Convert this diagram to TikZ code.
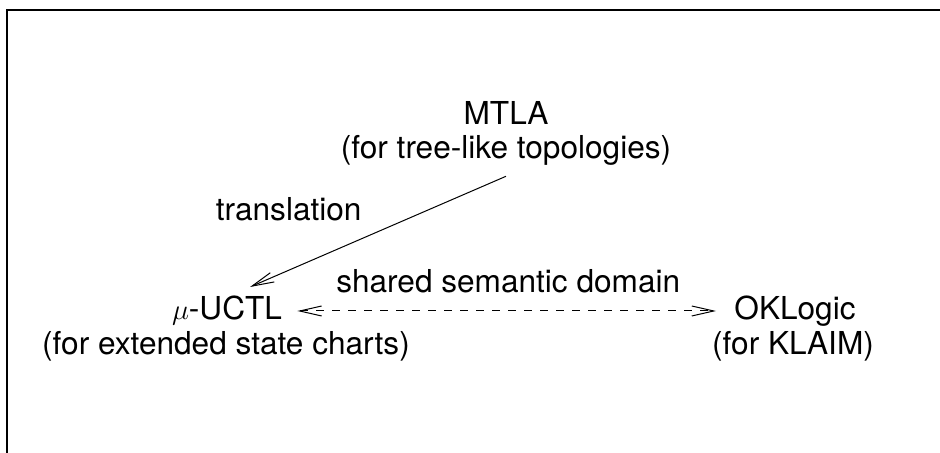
\documentclass[tikz,border=0pt]{standalone}
\usepackage{fontspec}
\setmainfont{TeX Gyre Heros}
\usepackage{tikz}
\usetikzlibrary{arrows.meta, positioning, calc}
\tikzstyle{logic} = [inner sep=0pt, anchor=base, font=\fontsize{15.8}{17.5}\selectfont]
\tikzstyle{note} = [inner sep=0pt, anchor=base, font=\fontsize{15.8}{17.5}\selectfont]
\tikzstyle{arrow} = [line width=0.5pt, -{Straight Barb[length=11pt,width=5pt]}]
\tikzstyle{dasharrow} = [line width=0.5pt, dash pattern=on 4pt off 4pt, {Straight Barb[length=11pt,width=5pt]}-{Straight Barb[length=11pt,width=5pt]}]

\begin{document}
\begin{tikzpicture}[x=0.5pt, y=0.5pt]
\useasboundingbox (0,0) rectangle (940,453);
% frame edges
\draw[line width=0.6pt] (7,0) -- (7,443) -- (940,443);

\node (mtla) [logic] at (506,328) {MTLA};
\node (mtlanote) [note] at (506,294) {(for tree-like topologies)};
\node (uctl) [logic] at (227,133) {$\mu$-UCTL};
\node (uctlnote) [note] at (226,98) {(for extended state charts)};
\node (okl) [logic] at (795,133) {OKLogic};
\node (oklnote) [note] at (793,98) {(for KLAIM)};

\draw [arrow] ([yshift=-5pt]mtlanote.south) -- node[note, pos=0.5, anchor=south east, xshift=-8pt, yshift=5pt] {translation} ([xshift=11.5pt,yshift=4.5pt]uctl.north);
\draw [dasharrow, shorten <=7.5pt, shorten >=9pt] (uctl.east) -- node[note, anchor=south, yshift=9pt] {shared semantic domain} (okl.west |- uctl.east);
\end{tikzpicture}
\end{document}
